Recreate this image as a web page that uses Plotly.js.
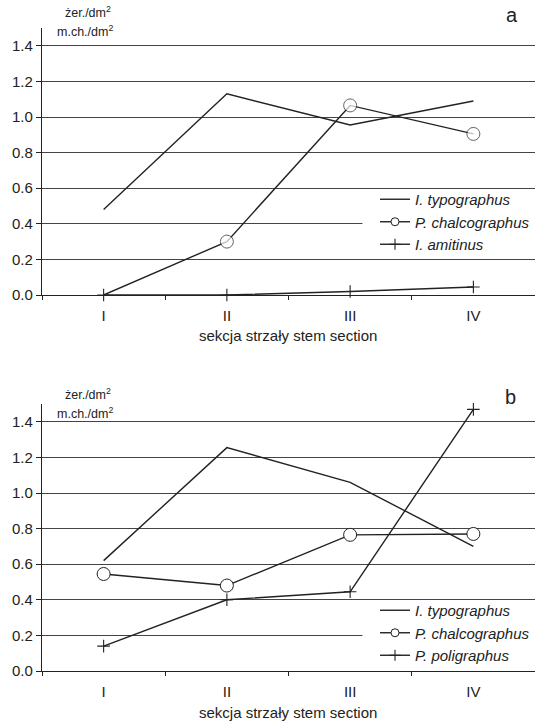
<!DOCTYPE html>
<html><head><meta charset="utf-8">
<script src="https://cdn.plot.ly/plotly-3.0.1.min.js"></script>
<style>html,body{margin:0;padding:0;background:#fff}</style>
</head><body><div id="chart" style="width:535px;height:722px"></div>
<script>
const sections = ["I", "II", "III", "IV"];
// panel a
const aTypographus = [0.48, 1.13, 0.955, 1.09];
const aChalcographus = [0.0, 0.30, 1.065, 0.905];
const aAmitinus = [0.0, 0.0, 0.02, 0.045];
// panel b
const bTypographus = [0.62, 1.255, 1.06, 0.70];
const bChalcographus = [0.545, 0.48, 0.765, 0.77];
const bPoligraphus = [0.14, 0.40, 0.445, 1.47];

const C = "#222";
const F = "Liberation Sans, Arial, sans-serif";
const circ = {symbol: "circle", size: 13, color: "#fff", line: {color: C, width: 1}};
const plus = {symbol: "cross-thin-open", size: 9, color: C, line: {color: C, width: 1.1}};
const lineS = {color: C, width: 1.4};

function tr(x, y, mode, marker, xa, ya) {
  const t = {x: x, y: y, mode: mode, line: lineS, xaxis: xa, yaxis: ya, showlegend: false, cliponaxis: false};
  if (marker) t.marker = marker;
  return t;
}
function lg(name, mode, marker, legend) {
  const t = {x: [null], y: [null], name: name, mode: mode, line: lineS, legend: legend, xaxis: "x", yaxis: "y"};
  if (marker) t.marker = Object.assign({}, marker, {size: 8});
  return t;
}

const circA = Object.assign({}, circ, {size: [0, 13, 13, 13]});
const data = [
  tr(sections, aTypographus, "lines", null, "x", "y"),
  tr(sections, aAmitinus, "lines+markers", plus, "x", "y"),
  tr(sections, aChalcographus, "lines+markers", circA, "x", "y"),
  tr(sections, bTypographus, "lines", null, "x2", "y2"),
  tr(sections, bPoligraphus, "lines+markers", plus, "x2", "y2"),
  tr(sections, bChalcographus, "lines+markers", circ, "x2", "y2"),
  lg("<i>I. typographus</i>", "lines", null, "legend"),
  lg("<i>P. chalcographus</i>", "lines+markers", circ, "legend"),
  lg("<i>I. amitinus</i>", "lines+markers", plus, "legend"),
  lg("<i>I. typographus</i>", "lines", null, "legend2"),
  lg("<i>P. chalcographus</i>", "lines+markers", circ, "legend2"),
  lg("<i>P. poligraphus</i>", "lines+markers", plus, "legend2")
];

const W = 535, H = 722;
const px = v => v / W, py = v => 1 - v / H;
function xax(anchor) {
  return {type: "category", domain: [px(42), 1], anchor: anchor, range: [-0.5, 3.5],
    tickson: "boundaries", ticks: "outside", ticklen: 4, tickcolor: C, tickwidth: 1,
    ticklabelstandoff: 7,
    showline: true, linecolor: C, linewidth: 1.2, showgrid: false, zeroline: false,
    tickfont: {family: F, size: 15, color: C}};
}
function yax(anchor, dom) {
  return {domain: dom, anchor: anchor, range: [0, 1.5], dtick: 0.2, tick0: 0, tickformat: ".1f",
    ticks: "outside", ticklen: 5, tickcolor: C, showline: true, linecolor: C, linewidth: 1.2,
    showgrid: true, gridcolor: "#444", gridwidth: 1, zeroline: false,
    tickfont: {family: F, size: 15, color: C}};
}
const legFont = {family: F, size: 15, color: C};
const ann = (text, x, y, size) => ({text: text, x: px(x), y: py(y), xref: "paper", yref: "paper",
  showarrow: false, xanchor: "center", yanchor: "middle", font: {family: F, size: size, color: C}});
// white patches behind the legends that hide one gridline each
const patch = (xr, yr, y0, y1) => ({type: "rect", layer: "between", xref: xr, yref: yr,
  x0: 2.1, x1: 3.5, y0: y0, y1: y1, fillcolor: "#fff", line: {width: 0}});

const layout = {
  width: W, height: H, margin: {l: 0, r: 0, t: 0, b: 0},
  paper_bgcolor: "#fff", plot_bgcolor: "#fff",
  xaxis: xax("y"), yaxis: yax("x", [py(295), py(28)]),
  xaxis2: xax("y2"), yaxis2: yax("x2", [py(671), py(404)]),
  legend: {x: 1, xanchor: "right", y: py(183), yanchor: "top", bgcolor: "rgba(0,0,0,0)", font: legFont,
    tracegroupgap: 0, itemwidth: 30},
  legend2: {x: 1, xanchor: "right", y: py(594), yanchor: "top", bgcolor: "rgba(0,0,0,0)", font: legFont,
    tracegroupgap: 0, itemwidth: 30},
  shapes: [patch("x", "y", 0.27, 0.53), patch("x2", "y2", 0.07, 0.33)],
  annotations: [
    ann("żer./dm<sup>2</sup>", 88, 12, 12.5),
    ann("m.ch./dm<sup>2</sup>", 85, 31, 12.5),
    ann("a", 512, 15, 20),
    ann("sekcja strzały stem section", 288, 335, 15),
    ann("żer./dm<sup>2</sup>", 88, 394, 12.5),
    ann("m.ch./dm<sup>2</sup>", 85, 413, 12.5),
    ann("b", 510, 397, 20),
    ann("sekcja strzały stem section", 288, 712, 15)
  ],
  showlegend: true
};
Plotly.newPlot("chart", data, layout, {displayModeBar: false, staticPlot: true});
</script></body></html>
